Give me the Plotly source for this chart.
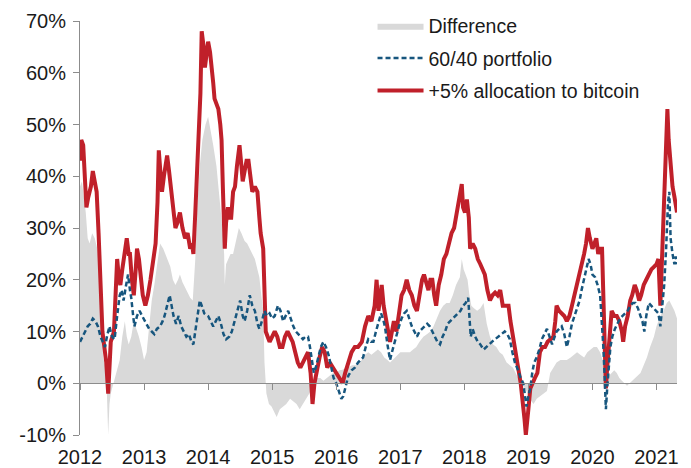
import plotly.graph_objects as go

# ---- data (decimal years, percent) ----
red_t = [2012.00, 2012.02, 2012.05, 2012.08, 2012.10, 2012.13, 2012.17, 2012.20, 2012.23, 2012.26, 2012.29, 2012.32, 2012.35, 2012.38, 2012.41, 2012.44, 2012.46, 2012.48, 2012.53, 2012.56, 2012.58, 2012.61, 2012.63, 2012.66, 2012.68, 2012.71, 2012.73, 2012.76, 2012.78, 2012.81, 2012.84, 2012.87, 2012.89, 2012.92, 2012.94, 2012.98, 2013.02, 2013.06, 2013.10, 2013.14, 2013.18, 2013.21, 2013.23, 2013.26, 2013.28, 2013.31, 2013.34, 2013.36, 2013.39, 2013.41, 2013.44, 2013.47, 2013.49, 2013.52, 2013.56, 2013.60, 2013.64, 2013.68, 2013.72, 2013.75, 2013.77, 2013.80, 2013.83, 2013.86, 2013.88, 2013.90, 2013.93, 2013.95, 2013.98, 2014.00, 2014.03, 2014.05, 2014.08, 2014.10, 2014.13, 2014.16, 2014.19, 2014.21, 2014.23, 2014.25, 2014.26, 2014.28, 2014.31, 2014.34, 2014.36, 2014.39, 2014.42, 2014.45, 2014.47, 2014.49, 2014.52, 2014.54, 2014.57, 2014.60, 2014.63, 2014.66, 2014.69, 2014.73, 2014.77, 2014.80, 2014.82, 2014.86, 2014.88, 2014.90, 2014.93, 2014.96, 2015.00, 2015.04, 2015.08, 2015.12, 2015.16, 2015.20, 2015.24, 2015.28, 2015.32, 2015.36, 2015.40, 2015.44, 2015.48, 2015.52, 2015.56, 2015.60, 2015.63, 2015.66, 2015.70, 2015.74, 2015.78, 2015.82, 2015.86, 2015.90, 2015.95, 2016.00, 2016.05, 2016.10, 2016.14, 2016.19, 2016.24, 2016.29, 2016.34, 2016.40, 2016.45, 2016.50, 2016.55, 2016.60, 2016.63, 2016.66, 2016.69, 2016.71, 2016.74, 2016.77, 2016.80, 2016.84, 2016.87, 2016.90, 2016.94, 2016.98, 2017.02, 2017.06, 2017.10, 2017.14, 2017.18, 2017.22, 2017.26, 2017.30, 2017.34, 2017.37, 2017.41, 2017.44, 2017.47, 2017.50, 2017.53, 2017.56, 2017.60, 2017.64, 2017.68, 2017.72, 2017.76, 2017.80, 2017.84, 2017.88, 2017.92, 2017.96, 2017.98, 2018.01, 2018.04, 2018.07, 2018.09, 2018.13, 2018.17, 2018.21, 2018.25, 2018.29, 2018.32, 2018.36, 2018.40, 2018.44, 2018.48, 2018.52, 2018.56, 2018.60, 2018.65, 2018.69, 2018.72, 2018.75, 2018.79, 2018.84, 2018.88, 2018.91, 2018.94, 2018.96, 2018.98, 2019.00, 2019.03, 2019.06, 2019.10, 2019.14, 2019.18, 2019.22, 2019.26, 2019.30, 2019.35, 2019.39, 2019.42, 2019.44, 2019.48, 2019.52, 2019.56, 2019.60, 2019.64, 2019.68, 2019.72, 2019.76, 2019.80, 2019.83, 2019.87, 2019.90, 2019.93, 2019.96, 2020.00, 2020.03, 2020.06, 2020.09, 2020.12, 2020.15, 2020.17, 2020.19, 2020.21, 2020.23, 2020.26, 2020.30, 2020.34, 2020.38, 2020.42, 2020.46, 2020.48, 2020.51, 2020.55, 2020.59, 2020.62, 2020.66, 2020.69, 2020.73, 2020.76, 2020.80, 2020.84, 2020.88, 2020.92, 2020.96, 2021.00, 2021.03, 2021.06, 2021.08, 2021.11, 2021.14, 2021.16, 2021.17, 2021.19, 2021.21, 2021.23, 2021.25, 2021.28, 2021.32]
red_v = [43, 47, 46, 40, 34, 36, 38, 41, 39, 37, 29, 19, 10, 7, 4, -2, 6, 8, 10, 18, 24, 20, 19, 22, 24, 26, 28, 25, 25, 20, 17, 22, 26, 24, 21, 17, 15, 17, 20, 24, 27, 35, 45, 40, 37, 40, 42, 44, 41, 39, 36, 33, 30, 31, 33, 30, 28, 29, 26, 27, 25, 33, 42, 50, 56, 68, 65, 61, 64, 66, 64, 62, 58, 55, 54, 53, 50, 47, 38, 32, 26, 31, 34, 32, 32, 37, 38, 42, 45, 46, 42, 39, 41, 43, 43, 40, 37, 38, 37, 32, 29, 26, 18, 10, 9, 8, 9, 10, 9, 7, 7, 9, 10, 9, 8, 6, 4, 3, 4, 5, 6, 2, -4, 0, 3, 5, 7, 6, 3, 4, 3, 2, 1, 0, 2, 4, 6, 7, 7, 8, 11, 13, 12, 15, 20, 14, 18, 19, 15, 13, 10, 8, 10, 12, 10, 14, 17, 18, 20, 18, 17, 15, 14, 17, 20, 21, 19, 18, 20, 20, 17, 15, 19, 21, 24, 25, 27, 29, 30, 33, 35, 38.5, 34, 33, 35.5, 32, 26, 27, 26, 24, 23, 22, 21, 18, 16, 17, 17.5, 17, 18, 15, 15, 15, 12, 10, 6.5, 3, 0, -3, -7, -10, -8, -5, -1, 0, 1, 2, 6, 7, 7, 8, 8.5, 9, 12, 15, 14, 13.5, 13, 12, 13, 15, 17, 19, 21, 23, 25, 27, 30, 28, 26, 27, 28, 25, 26, 26, 16, 7, -1, 3, 7, 14, 13, 13, 12, 10, 8, 11, 13, 16, 17, 19, 18, 16, 17, 19, 20, 21, 22, 22.5, 23, 24, 15, 22, 32, 40, 47, 53, 47, 44, 40, 38, 36, 33]

blue_t = [2012.00, 2012.04, 2012.08, 2012.12, 2012.16, 2012.20, 2012.24, 2012.28, 2012.32, 2012.36, 2012.39, 2012.42, 2012.46, 2012.50, 2012.54, 2012.58, 2012.62, 2012.65, 2012.68, 2012.72, 2012.75, 2012.78, 2012.80, 2012.83, 2012.85, 2012.89, 2012.93, 2012.97, 2013.01, 2013.04, 2013.08, 2013.12, 2013.16, 2013.20, 2013.25, 2013.29, 2013.32, 2013.36, 2013.40, 2013.43, 2013.46, 2013.50, 2013.54, 2013.58, 2013.62, 2013.66, 2013.70, 2013.74, 2013.77, 2013.80, 2013.83, 2013.87, 2013.90, 2013.94, 2014.00, 2014.04, 2014.08, 2014.12, 2014.16, 2014.20, 2014.24, 2014.28, 2014.33, 2014.37, 2014.41, 2014.44, 2014.47, 2014.50, 2014.54, 2014.57, 2014.61, 2014.65, 2014.69, 2014.73, 2014.77, 2014.80, 2014.84, 2014.88, 2014.92, 2014.96, 2015.00, 2015.04, 2015.09, 2015.13, 2015.17, 2015.21, 2015.25, 2015.29, 2015.33, 2015.37, 2015.41, 2015.45, 2015.48, 2015.52, 2015.56, 2015.59, 2015.62, 2015.65, 2015.68, 2015.72, 2015.76, 2015.80, 2015.84, 2015.88, 2015.92, 2015.96, 2016.00, 2016.04, 2016.08, 2016.11, 2016.14, 2016.19, 2016.24, 2016.29, 2016.34, 2016.38, 2016.42, 2016.46, 2016.50, 2016.54, 2016.58, 2016.62, 2016.66, 2016.70, 2016.73, 2016.76, 2016.80, 2016.84, 2016.87, 2016.90, 2016.94, 2016.98, 2017.02, 2017.06, 2017.10, 2017.14, 2017.18, 2017.22, 2017.26, 2017.30, 2017.34, 2017.38, 2017.42, 2017.46, 2017.50, 2017.54, 2017.58, 2017.62, 2017.66, 2017.70, 2017.74, 2017.78, 2017.82, 2017.86, 2017.90, 2017.94, 2017.98, 2018.02, 2018.06, 2018.08, 2018.10, 2018.13, 2018.17, 2018.21, 2018.25, 2018.30, 2018.34, 2018.38, 2018.43, 2018.48, 2018.53, 2018.58, 2018.63, 2018.67, 2018.71, 2018.75, 2018.79, 2018.84, 2018.88, 2018.92, 2018.95, 2018.97, 2019.00, 2019.03, 2019.06, 2019.09, 2019.13, 2019.17, 2019.21, 2019.25, 2019.29, 2019.33, 2019.37, 2019.41, 2019.44, 2019.48, 2019.52, 2019.56, 2019.60, 2019.64, 2019.68, 2019.72, 2019.76, 2019.80, 2019.83, 2019.87, 2019.91, 2019.94, 2019.97, 2020.00, 2020.04, 2020.08, 2020.12, 2020.15, 2020.17, 2020.19, 2020.21, 2020.23, 2020.25, 2020.28, 2020.31, 2020.35, 2020.39, 2020.43, 2020.47, 2020.51, 2020.55, 2020.59, 2020.63, 2020.67, 2020.71, 2020.75, 2020.78, 2020.81, 2020.84, 2020.88, 2020.92, 2020.96, 2021.00, 2021.03, 2021.06, 2021.09, 2021.12, 2021.15, 2021.18, 2021.20, 2021.22, 2021.25, 2021.28, 2021.30, 2021.32]
blue_v = [8, 9, 10, 11, 11.5, 12.5, 12, 11, 9, 8, 7, 9, 11, 9, 8.5, 13, 17, 18, 16, 19, 21, 18, 16.5, 13, 11, 13, 14, 13, 12, 11.5, 10.5, 10, 9.5, 10.5, 11, 12, 13, 15, 17, 15, 13, 11.5, 13, 11, 10, 9, 9.5, 8, 7.5, 10, 13, 16, 15, 13.5, 13, 12, 11, 12, 13, 11.5, 9.5, 8.5, 9, 10, 12, 13.5, 15, 16, 13, 12, 14, 17, 15, 14, 11.5, 10.5, 12, 14, 13, 13.5, 12.5, 13, 15, 14, 12, 13, 14, 12.5, 11, 10, 9.5, 9, 8.5, 9, 9, 7, 4.5, 2, 3, 5, 7, 8, 7, 5.5, 3, 1, 0, -1.5, -3, -2.5, -1, 1.5, 2.5, 3, 4, 4.5, 5, 7, 8.5, 8, 8, 10, 12, 13.5, 12.5, 11, 7.5, 4.5, 6, 7.5, 9, 11, 12.5, 13.5, 14, 12.5, 11, 10, 9, 10, 10.5, 11, 11.5, 11, 10, 9, 8, 7.5, 9, 10, 11.5, 12, 12.5, 13, 13.5, 14, 15, 15.5, 16.5, 13, 9, 10.5, 9, 8, 7.5, 6.5, 7, 7.5, 8, 8.5, 9, 9.5, 10, 9.5, 8.5, 6, 4, 2.5, 1, 0, -3, -4.5, -2.5, -1, 2, 4, 5, 6.5, 8.5, 9.5, 10.5, 9, 7.5, 9, 10, 10.5, 11, 9.5, 7, 9, 11.5, 13, 14.5, 16, 18, 20, 22.5, 24, 23, 21, 20.5, 19, 17, 12, 7, 1.5, -5, -1, 3, 7, 9, 10.5, 11.5, 12.5, 13, 13.5, 14, 15, 15.5, 15.5, 14.5, 13, 12, 10, 13, 15.5, 15, 14.5, 14, 13.5, 11, 15, 19, 26, 35, 37, 28, 25, 23, 24.5, 23]

diff_t = [2012.00, 2012.03, 2012.06, 2012.09, 2012.12, 2012.15, 2012.19, 2012.23, 2012.27, 2012.30, 2012.33, 2012.36, 2012.40, 2012.42, 2012.44, 2012.46, 2012.48, 2012.52, 2012.55, 2012.58, 2012.62, 2012.66, 2012.70, 2012.73, 2012.76, 2012.80, 2012.84, 2012.88, 2012.92, 2012.96, 2013.00, 2013.04, 2013.08, 2013.12, 2013.16, 2013.20, 2013.25, 2013.30, 2013.33, 2013.37, 2013.41, 2013.45, 2013.49, 2013.53, 2013.56, 2013.60, 2013.64, 2013.68, 2013.72, 2013.76, 2013.80, 2013.83, 2013.87, 2013.91, 2013.96, 2014.00, 2014.04, 2014.08, 2014.13, 2014.18, 2014.23, 2014.25, 2014.26, 2014.28, 2014.31, 2014.35, 2014.39, 2014.44, 2014.48, 2014.52, 2014.57, 2014.61, 2014.65, 2014.69, 2014.73, 2014.77, 2014.80, 2014.83, 2014.86, 2014.88, 2014.91, 2014.95, 2014.99, 2015.03, 2015.07, 2015.12, 2015.17, 2015.22, 2015.28, 2015.33, 2015.38, 2015.43, 2015.48, 2015.54, 2015.58, 2015.62, 2015.66, 2015.70, 2015.75, 2015.80, 2015.85, 2015.90, 2015.95, 2016.00, 2016.05, 2016.10, 2016.15, 2016.20, 2016.25, 2016.30, 2016.35, 2016.40, 2016.45, 2016.50, 2016.55, 2016.60, 2016.65, 2016.70, 2016.75, 2016.80, 2016.84, 2016.88, 2016.92, 2016.96, 2017.00, 2017.05, 2017.10, 2017.15, 2017.20, 2017.25, 2017.30, 2017.36, 2017.42, 2017.47, 2017.52, 2017.57, 2017.62, 2017.67, 2017.72, 2017.77, 2017.82, 2017.87, 2017.93, 2017.96, 2017.99, 2018.02, 2018.05, 2018.08, 2018.11, 2018.15, 2018.20, 2018.25, 2018.30, 2018.35, 2018.40, 2018.45, 2018.50, 2018.55, 2018.60, 2018.66, 2018.71, 2018.76, 2018.82, 2018.87, 2018.92, 2018.97, 2019.02, 2019.08, 2019.13, 2019.18, 2019.24, 2019.29, 2019.34, 2019.39, 2019.44, 2019.50, 2019.55, 2019.60, 2019.66, 2019.71, 2019.76, 2019.81, 2019.87, 2019.92, 2019.97, 2020.02, 2020.07, 2020.12, 2020.17, 2020.20, 2020.22, 2020.26, 2020.30, 2020.34, 2020.38, 2020.42, 2020.46, 2020.50, 2020.54, 2020.58, 2020.62, 2020.66, 2020.70, 2020.75, 2020.80, 2020.85, 2020.90, 2020.96, 2021.00, 2021.06, 2021.11, 2021.16, 2021.20, 2021.24, 2021.28, 2021.32]
diff_v = [38, 39, 36, 33, 28, 27, 29, 28, 26, 23, 13, 5, 3, -2, -10, -4, -2, 0, 1.5, 3, 4.5, 9, 12, 9, 7.5, 9, 12, 10.5, 9, 7, 4.5, 6, 11, 16, 19, 23, 27, 26, 25, 24, 22.5, 20, 19, 20, 21, 19.5, 18.5, 17.5, 16.5, 16, 24, 34, 42, 47, 50, 51.5, 49, 46, 42, 36, 29, 25, 19, 23, 24, 25, 25, 28, 30, 29, 27.5, 27, 26, 25, 24, 22, 20.5, 17, 14, 4, -2, -4, -4.5, -5.5, -6.5, -5, -4.5, -4, -3, -3.5, -4, -5, -4, -3, -2, -1, 0.5, 1, 1, 0.5, 1, 1.5, 2, 2, 2.5, 2.6, 3, 3.2, 3.5, 3.5, 4, 4.5, 5.5, 6, 5.5, 6, 6.5, 6, 5, 4.5, 4, 4.5, 5, 5.5, 6, 6, 6, 6, 6.5, 7, 8, 9, 9.5, 10, 11, 12.5, 14, 15, 15.5, 15.5, 17, 19, 20.5, 24, 22, 21, 20, 17, 15, 14.5, 14, 14.5, 15.5, 11.5, 9, 7.5, 7, 6, 5.5, 4, 3.5, 3, 1.5, 0.5, -0.5, -1.5, -3, -4, -3, -2.5, -2, -1.5, 2, 3, 4, 4.5, 4.5, 4.5, 5, 5.5, 6, 5.5, 5, 6, 6.5, 7, 7, 6, 4, 1, 0.5, 1.5, 2, 2.5, 2, 1, 0.5, 0, -0.5, 0, 0.5, 1, 1.5, 2, 3.5, 5, 7, 9, 11, 13, 14, 15.5, 16, 15, 14, 12.5]

year_ticks = [2012, 2013, 2014, 2015, 2016, 2017, 2018, 2019, 2020, 2021]
year_labels = [str(y) for y in year_ticks]
pct_ticks = [-10, 0, 10, 20, 30, 40, 50, 60, 70]
pct_labels = ["-10%", "0%", "10%", "20%", "30%", "40%", "50%", "60%", "70%"]

FONT = "Liberation Sans, Arial, sans-serif"
RED = "#C0202A"
BLUE = "#17567E"
GRAY = "#D9D9D9"
AXIS = "#8C8C8C"

fig = go.Figure()
fig.add_trace(go.Scatter(x=diff_t, y=diff_v, name="Difference", mode="lines",
                         fill="tozeroy", fillcolor=GRAY, line=dict(width=0, color=GRAY),
                         legendrank=1, legendgroup="a"))
fig.add_trace(go.Scatter(x=red_t, y=red_v, name="+5% allocation to bitcoin", mode="lines",
                         line=dict(color=RED, width=4), legendrank=3, legendgroup="c"))
fig.add_trace(go.Scatter(x=blue_t, y=blue_v, name="60/40 portfolio", mode="lines",
                         line=dict(color=BLUE, width=2.5, dash="5px,3px"), legendrank=2, legendgroup="b"))
# invisible trace to carry the zero-line tick axis
fig.add_trace(go.Scatter(x=[2012, 2021.32], y=[0, 0], xaxis="x2", mode="lines",
                         line=dict(width=0), showlegend=False, hoverinfo="skip"))

fig.update_layout(
    width=683, height=470,
    margin=dict(l=72, r=14, t=13, b=43, autoexpand=False),
    paper_bgcolor="white", plot_bgcolor="white",
    font=dict(family=FONT, size=20, color="#1a1a1a"),
    showlegend=True,
    legend=dict(x=0.49, y=1.035, xanchor="left", yanchor="top", bgcolor="rgba(0,0,0,0)",
                font=dict(size=19.5), itemwidth=46, tracegroupgap=4, traceorder="grouped"),
    xaxis=dict(range=[2012, 2021.32], tickvals=year_ticks, ticktext=year_labels,
               showgrid=False, zeroline=False, showline=False, ticks="outside", automargin=False,
               ticklen=4, tickcolor="rgba(0,0,0,0)"),
    xaxis2=dict(range=[2012, 2021.32], overlaying="x", anchor="free", position=0.125,
                side="bottom", tickvals=year_ticks, showticklabels=False, automargin=False,
                showgrid=False, zeroline=False, showline=True, linecolor=AXIS, linewidth=1,
                ticks="outside", ticklen=6, tickcolor=AXIS, tickwidth=1),
    yaxis=dict(range=[-10, 70], tickvals=pct_ticks, ticktext=pct_labels, automargin=False,
               showgrid=False, zeroline=False, showline=True, linecolor=AXIS, linewidth=1,
               ticks="outside", ticklen=6, tickcolor=AXIS, tickwidth=1, ticklabelstandoff=3),
)

fig.write_html("out.html")
